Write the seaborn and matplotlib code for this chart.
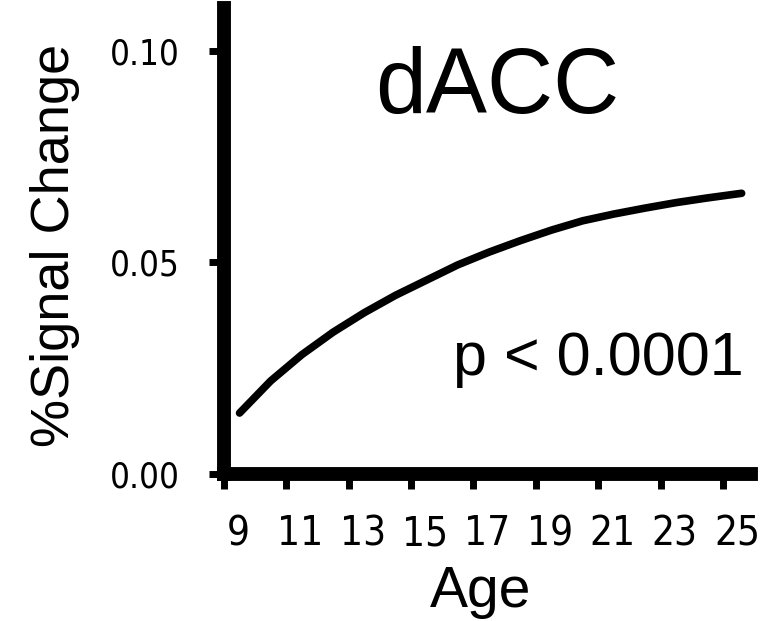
import pandas as pd
import seaborn as sns
import matplotlib
matplotlib.use("Agg")
import matplotlib.pyplot as plt
from matplotlib.transforms import ScaledTranslation

# values
age = [9.5, 10.5, 11.5, 12.5, 13.5, 14.5, 15.5, 16.5, 17.5, 18.5, 19.5, 20.5,
       21.5, 22.5, 23.5, 24.5, 25.6]
signal = [0.0144, 0.0220, 0.0282, 0.0335, 0.0381, 0.0422, 0.0458, 0.0494, 0.0524,
          0.0551, 0.0576, 0.0598, 0.0614, 0.0628, 0.0641, 0.0652, 0.0663]
x_ticks = [9, 11, 13, 15, 17, 19, 21, 23, 25]
y_ticks = [0.00, 0.05, 0.10]
y_tick_labels = ["0.00", "0.05", "0.10"]

df = pd.DataFrame({"Age": age, "Signal": signal})

sns.set_style("ticks")
plt.rcParams["font.family"] = ["Liberation Sans", "DejaVu Sans"]
plt.rcParams["text.color"] = "black"
plt.rcParams["axes.labelcolor"] = "black"

fig = plt.figure(figsize=(7.75, 6.21), dpi=100)
ax = fig.add_axes([0.289, 0.2367, 0.680, 0.750])

sns.lineplot(data=df, x="Age", y="Signal", color="black", linewidth=5.5,
             solid_capstyle="round", ax=ax)

ax.set_xlim(9, 25.9)
ax.set_ylim(0, 0.110)
ax.set_xticks(x_ticks)
ax.set_xticklabels([str(t) for t in x_ticks], family="DejaVu Sans",
                   fontstretch="condensed", fontsize=29, color="black")
ax.set_yticks(y_ticks)
ax.set_yticklabels(y_tick_labels, family="DejaVu Sans", fontstretch="condensed",
                   fontsize=25, color="black")

sns.despine(ax=ax)
for side in ["left", "bottom"]:
    ax.spines[side].set_linewidth(10)
    ax.spines[side].set_color("black")
ax.tick_params(axis="both", direction="out", length=11, width=5, color="black")
ax.tick_params(axis="y", pad=21)
ax.tick_params(axis="x", pad=18)

# x tick labels sit a little to the right of their ticks in the reference
shift = ScaledTranslation(0.14, 0, fig.dpi_scale_trans)
for lab in ax.get_xticklabels():
    lab.set_transform(lab.get_transform() + shift)

ax.set_xlabel("Age", fontsize=41, va="baseline")
ax.xaxis.set_label_coords(0.486, -0.285)
ax.set_ylabel("%Signal Change", fontsize=39)
ax.yaxis.set_label_coords(-0.273, 0.49)

ax.text(17.76, 0.0853, "dACC", fontsize=66, ha="center", va="baseline")
ax.text(25.66, 0.0234, "p < 0.0001", fontsize=44, ha="right", va="baseline")

fig.savefig("out.png", dpi=100)
